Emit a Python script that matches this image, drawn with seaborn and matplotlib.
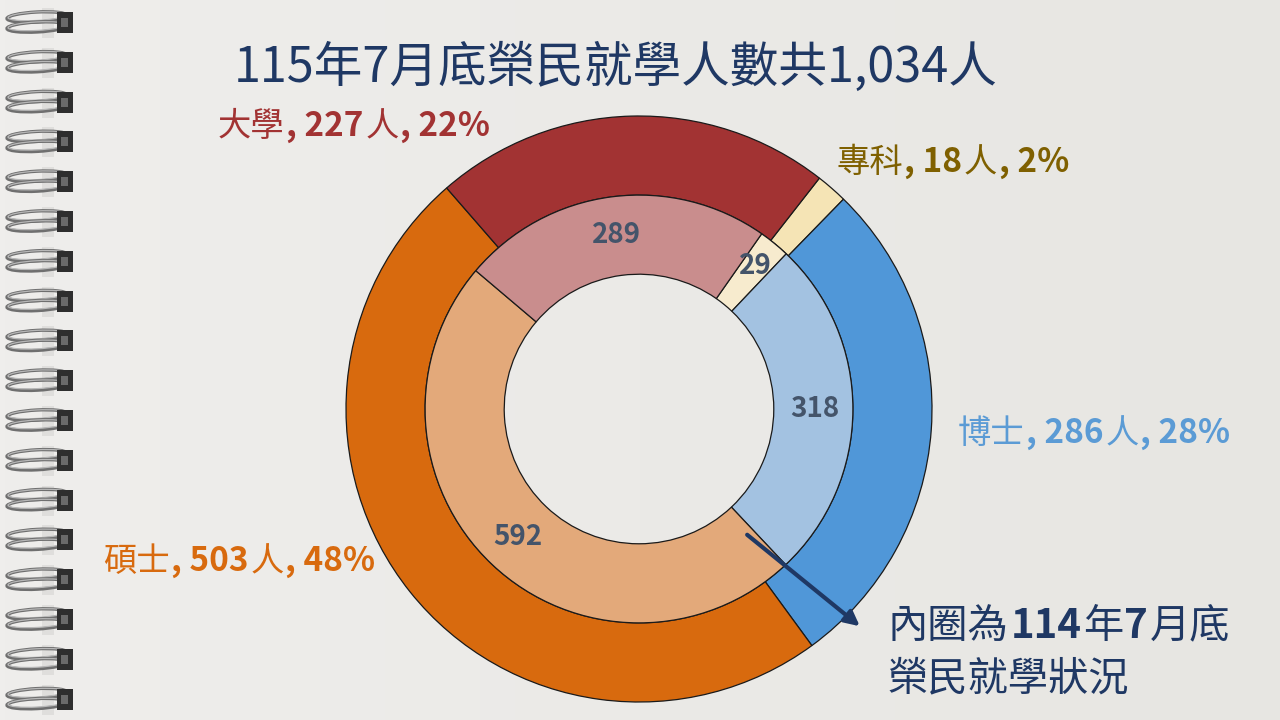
import matplotlib
matplotlib.use("Agg")
import numpy as np
import seaborn as sns
import matplotlib.pyplot as plt
from matplotlib.patches import Ellipse, Rectangle

# 風格
sns.set_theme(style="white")
plt.rcParams['font.family'] = ['Noto Sans CJK TC', 'DejaVu Sans']

# 資料（順時針：專科、博士、碩士、大學）
categories = ["專科", "博士", "碩士", "大學"]
outer_values = [18, 286, 503, 227]   # 115年7月底
inner_values = [29, 318, 592, 289]   # 114年7月底
pct_labels = ["2%", "28%", "48%", "22%"]

outer_colors = ["#F5E4B5", "#5097D8", "#D86A0E", "#A23333"]
inner_colors = ["#F7EBCE", "#A3C2E1", "#E3A97A", "#C98D8D"]
label_colors = ["#7F6000", "#5B9BD5", "#D86A0E", "#A23333"]
navy = "#1F3864"

# 標籤位置（像素：左, 基線）
label_pos = {"專科": (836, 172), "博士": (958, 443), "碩士": (103, 571), "大學": (218, 136)}

fig = plt.figure(figsize=(12.8, 7.2), dpi=100)

# 背景：筆記本紙
bg = fig.add_axes([0, 0, 1, 1], zorder=0)
grad = np.linspace(0, 1, 256)[None, :]
bg.imshow(grad, extent=(0, 1280, 720, 0), aspect='auto',
          cmap=matplotlib.colors.LinearSegmentedColormap.from_list("p", ["#EFEEEC", "#E7E6E2"]))
bg.set_xlim(0, 1280)
bg.set_ylim(720, 0)
bg.axis('off')

# 線圈
for k in range(18):
    y = 22 + 39.8 * k
    bg.add_patch(Rectangle((42, y - 14), 12, 30, fc="#D6D5D2", ec="none", alpha=0.6))
    for dy in (-5, 5):
        bg.add_patch(Ellipse((37, y + dy), 60, 10, angle=-3, fill=False,
                             ec="#6F6F6F", lw=2.4))
        bg.add_patch(Ellipse((37, y + dy - 0.8), 58, 8.5, angle=-3, fill=False,
                             ec="#B8B8B8", lw=0.9))
    bg.add_patch(Rectangle((57, y - 10), 16, 21, fc="#2E2E2E", ec="none"))
    bg.add_patch(Rectangle((61, y - 4), 7, 9, fc="#6A6A6A", ec="none"))

# 圓環圖
cx, cy, R = 639, 409, 293
ax = fig.add_axes([(cx - R) / 1280, (720 - cy - R) / 720, 2 * R / 1280, 2 * R / 720], zorder=1)
ax.patch.set_alpha(0)
outer_wedges, _ = ax.pie(outer_values, colors=outer_colors, radius=1, startangle=52,
                         counterclock=False,
                         wedgeprops=dict(width=0.27, edgecolor="#1A1A1A", linewidth=0.9))
inner_wedges, _ = ax.pie(inner_values, colors=inner_colors, radius=0.73, startangle=55,
                         counterclock=False,
                         wedgeprops=dict(width=0.27, edgecolor="#1A1A1A", linewidth=0.9))
ax.set_xlim(-1, 1)
ax.set_ylim(-1, 1)
ax.set_aspect('equal')
ax.axis('off')

for w, v in zip(inner_wedges, inner_values):
    a = np.deg2rad((w.theta1 + w.theta2) / 2)
    r = 0.63 if v < 50 else 0.6
    ax.text(r * np.cos(a), r * np.sin(a), str(v), ha='center', va='center',
            fontsize=20, fontweight='bold', color="#44546A")

# 文字層
top = fig.add_axes([0, 0, 1, 1], zorder=2)
top.set_xlim(0, 1280)
top.set_ylim(720, 0)
top.axis('off')
renderer = fig.canvas.get_renderer()


def rich(x, y, parts, color, size):
    for s, bold in parts:
        t = top.text(x, y, s, color=color, fontsize=size, ha='left', va='baseline',
                     fontweight='bold' if bold else 'normal')
        x += t.get_window_extent(renderer).width + 1.5


for cat, v, p, c in zip(categories, outer_values, pct_labels, label_colors):
    x, y = label_pos[cat]
    rich(x, y, [(cat, False), (f", {v}", True), ("人", False), (f", {p}", True)], c, 24)

total = sum(outer_values)
top.text(616, 82, f"115年7月底榮民就學人數共{total:,}人", ha='center', va='baseline',
         fontsize=35, color=navy)

rich(888, 638, [("內圈為", False), ("114", True), ("年", False), ("7", True), ("月底", False)],
     navy, 29)
rich(888, 690, [("榮民就學狀況", False)], navy, 29)

top.annotate("", xy=(862, 628), xytext=(745, 533),
             arrowprops=dict(arrowstyle='-|>', color=navy, lw=3, mutation_scale=22))

fig.savefig("out.png", dpi=100)
